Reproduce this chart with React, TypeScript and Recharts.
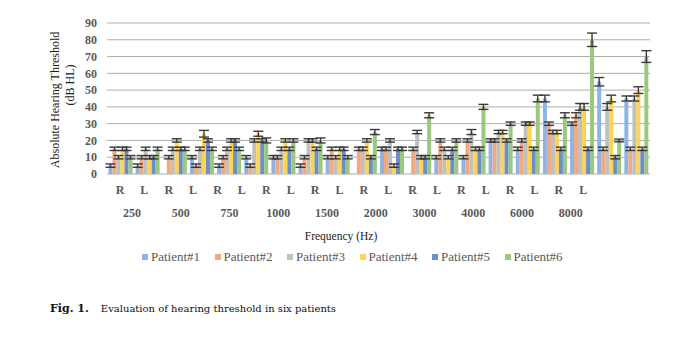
import { BarChart, Bar, XAxis, YAxis, CartesianGrid, ErrorBar, Legend } from 'recharts';

const SERIF = '"Liberation Serif", "Times New Roman", serif';

const frequencies = ['250', '500', '750', '1000', '1500', '2000', '3000', '4000', '6000', '8000'];
const ears = ['R', 'L'];
const yTicks = [0, 10, 20, 30, 40, 50, 60, 70, 80, 90];

// thresholds per ear, order: 250R, 250L, 500R, 500L ... 8000R, 8000L
const patient1 = [5, 5, 0, 10, 5, 10, 10, 5, 10, 0, 15, 0, 10, 10, 20, 15, 45, 30, 55, 45];
const patient2 = [15, 10, 10, 5, 10, 5, 10, 10, 15, 15, 15, 15, 20, 20, 20, 20, 30, 35, 15, 15];
const patient3 = [10, 15, 15, 15, 15, 20, 15, 20, 10, 15, 20, 25, 15, 25, 25, 30, 25, 40, 40, 45];
const patient4 = [15, 10, 20, 24, 20, 24, 20, 20, 15, 20, 5, 10, 10, 15, 25, 30, 25, 40, 45, 50];
const patient5 = [15, 10, 15, 20, 20, 20, 15, 15, 15, 10, 15, 10, 15, 15, 20, 15, 15, 15, 10, 15];
const patient6 = [10, 15, 15, 15, 15, 20, 20, 20, 10, 25, 15, 35, 20, 40, 30, 45, 35, 80, 20, 70];

const err1 = [1, 1, 0, 1, 1, 1, 1, 1, 1, 0, 1, 0, 1, 1, 1, 1, 2, 1, 2.5, 1.5];
const err2 = [1, 1, 1, 1, 1, 1, 1, 1, 1, 1, 1, 1, 1, 1, 1, 1, 1, 1.5, 1, 1];
const err3 = [1, 1, 1, 1, 1, 1, 1, 1, 1, 1, 1, 1, 1, 1.5, 1, 1, 1, 2, 2, 1.5];
const err4 = [1, 1, 1, 2, 1, 1.5, 1, 1, 1, 1, 1, 1, 1, 1, 1, 1, 1, 2, 2, 2];
const err5 = [1, 1, 1, 1, 1, 1, 1, 1, 1, 1, 1, 1, 1, 1, 1, 1, 1, 1, 1, 1];
const err6 = [1, 1, 1, 1, 1, 1.5, 1, 1.5, 1, 1.5, 1, 1.5, 1, 1.5, 1, 2, 1.5, 4, 0.8, 3.5];

const series = [
  { key: 'p1', name: 'Patient#1', color: '#8EB4E3', values: patient1, errors: err1 },
  { key: 'p2', name: 'Patient#2', color: '#F4A97C', values: patient2, errors: err2 },
  { key: 'p3', name: 'Patient#3', color: '#C0C0C0', values: patient3, errors: err3 },
  { key: 'p4', name: 'Patient#4', color: '#FFD44F', values: patient4, errors: err4 },
  { key: 'p5', name: 'Patient#5', color: '#6B8ECF', values: patient5, errors: err5 },
  { key: 'p6', name: 'Patient#6', color: '#9BC77E', values: patient6, errors: err6 },
];

const data = frequencies.flatMap((freq, fi) =>
  ears.map((ear, ei) => {
    const i = fi * 2 + ei;
    const row: any = { cat: freq + ear, freq, ear };
    series.forEach((s) => {
      row[s.key] = s.values[i];
      row[s.key + 'e'] = s.errors[i];
    });
    return row;
  })
);

// the category labels in the figure sit on a slightly narrower row than the bars
const SQUEEZE = 0.898;
const SHIFT = 11.7;

const XTick = ({ x, y, index }: any) => {
  const row = data[index];
  if (!row) return null;
  const lx = x * SQUEEZE + SHIFT;
  return (
    <g fontFamily={SERIF} fontWeight="bold" fontSize={12} fill="#595959">
      <text x={lx} y={y + 20} textAnchor="middle">{row.ear}</text>
      {row.ear === 'R' && (
        <text x={lx + 12} y={y + 43} textAnchor="middle">{row.freq}</text>
      )}
    </g>
  );
};

const YLabel = () => (
  <g fontFamily={SERIF} fontSize={12} fill="#1a1a1a">
    <text transform="translate(59,100) rotate(-90)" textAnchor="middle">Absolute Hearing Threshold</text>
    <text transform="translate(74,85) rotate(-90)" textAnchor="middle">(dB HL)</text>
  </g>
);

const XLabel = () => (
  <text x={341} y={240} textAnchor="middle" fontFamily={SERIF} fontSize={11.5} fill="#1a1a1a">
    Frequency (Hz)
  </text>
);

const LegendContent = () => (
  <div style={{ display: 'flex', paddingLeft: 142, paddingTop: 5, fontFamily: SERIF, fontSize: 13, color: '#595959' }}>
    {series.map((s) => (
      <div key={s.key} style={{ width: 72.5, display: 'flex', alignItems: 'center', whiteSpace: 'nowrap' }}>
        <span style={{ width: 6, height: 6, background: s.color, marginRight: 3, display: 'inline-block' }} />
        <span>{s.name}</span>
      </div>
    ))}
  </div>
);

export default function App() {
  return (
    <div style={{ position: 'absolute', left: 0, top: 0, width: 683, height: 351, background: '#fff' }}>
      <BarChart
        width={683}
        height={280}
        data={data}
        margin={{ top: 23, right: 33, bottom: 0, left: 0 }}
        barCategoryGap={1.5}
        barGap={0}
      >
        <CartesianGrid vertical={false} stroke="#ADADAD" />
        <XAxis
          dataKey="cat"
          interval={0}
          height={70}
          axisLine={false}
          tickLine={false}
          tickSize={0}
          tickMargin={0}
          tick={<XTick />}
          label={<XLabel />}
        />
        <YAxis
          width={107}
          domain={[0, 90]}
          ticks={yTicks}
          interval={0}
          axisLine={false}
          tickLine={false}
          tickSize={6}
          tickMargin={4}
          tick={{ fontFamily: SERIF, fontWeight: 'bold', fontSize: 12, fill: '#595959' }}
          label={<YLabel />}
        />
        <Legend verticalAlign="bottom" content={<LegendContent />} wrapperStyle={{ height: 36 }} />
        {series.map((s) => (
          <Bar key={s.key} dataKey={s.key} name={s.name} fill={s.color} isAnimationActive={false}>
            <ErrorBar dataKey={s.key + 'e'} width={5} stroke="#3a3a3a" strokeWidth={1.4} />
          </Bar>
        ))}
      </BarChart>
      <div style={{ position: 'absolute', left: 50, top: 302, fontFamily: '"DejaVu Serif", serif', fontSize: 10, color: '#111', whiteSpace: 'nowrap' }}>
        <b style={{ fontSize: 11 }}>Fig. 1.</b>
        <span style={{ marginLeft: 12 }}>Evaluation of hearing threshold in six patients</span>
      </div>
    </div>
  );
}
